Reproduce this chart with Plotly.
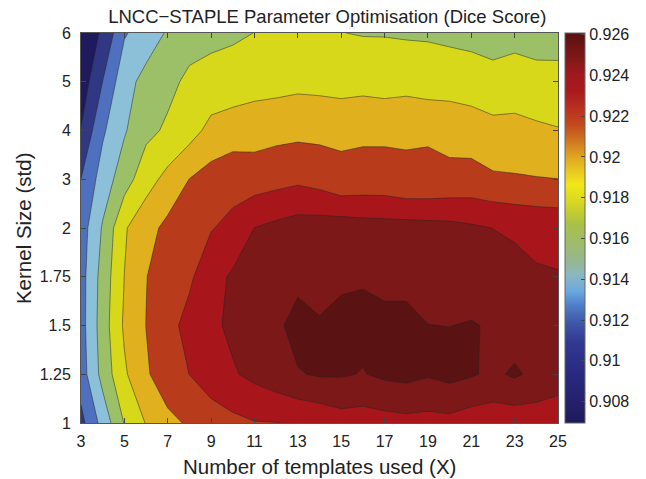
import plotly.graph_objects as go

# ---- data -------------------------------------------------------------
templates = list(range(3, 26))                      # x: number of templates used
kernel_labels = ["1", "1.25", "1.5", "1.75", "2", "3", "4", "5", "6"]  # y categories

dice_k1_00 = [0.9094, 0.9127, 0.9161, 0.9181, 0.9196, 0.9202, 0.9210, 0.9215, 0.9219, 0.92195, 0.9222, 0.9225,
              0.9231, 0.9230, 0.9232, 0.9234, 0.9233, 0.9234, 0.9229, 0.9228, 0.9227, 0.9229, 0.9227]
dice_k1_25 = [0.9110, 0.9147, 0.9177, 0.9198, 0.9209, 0.92202, 0.9230, 0.9238, 0.9245, 0.9252, 0.92587, 0.9262,
              0.9262, 0.9259, 0.9264, 0.9266, 0.9262, 0.9266, 0.9262, 0.9256, 0.9263, 0.9255, 0.9250]
dice_k1_50 = [0.9112, 0.9150, 0.9183, 0.92002, 0.9214, 0.9226, 0.9236, 0.9244, 0.9250, 0.9256, 0.9267, 0.9261,
              0.9265, 0.9266, 0.9263, 0.9264, 0.92602, 0.92598, 0.9261, 0.92585, 0.9250, 0.9254, 0.9252]
dice_k1_75 = [0.9112, 0.9148, 0.91802, 0.91995, 0.9209, 0.9217, 0.9232, 0.9243, 0.9248, 0.9252, 0.9255, 0.9256,
              0.9257, 0.9258, 0.9257, 0.9256, 0.9254, 0.9253, 0.9252, 0.9250, 0.9247, 0.9242, 0.9241]
dice_k2 = [0.9110, 0.9142, 0.9178, 0.9193, 0.9205, 0.9213, 0.9219, 0.9225, 0.92402, 0.9245, 0.9249, 0.9250,
           0.9251, 0.9249, 0.9248, 0.9248, 0.9247, 0.9246, 0.9243, 0.92398, 0.9237, 0.9235, 0.9234]
dice_k3 = [0.91002, 0.9129, 0.9151, 0.9172, 0.9186, 0.92003, 0.9208, 0.9213, 0.9210, 0.9213, 0.9216, 0.9212,
           0.9204, 0.9206, 0.9206, 0.92015, 0.9202, 0.9204, 0.9206, 0.9203, 0.9202, 0.9201, 0.92002]
dice_k4 = [0.9081, 0.9117, 0.9138, 0.9155, 0.9163, 0.9172, 0.9186, 0.9190, 0.9192, 0.9194, 0.9195, 0.9195,
           0.9197, 0.9197, 0.9197, 0.9199, 0.9199, 0.9195, 0.9192, 0.91855, 0.91855, 0.9183, 0.9181]
dice_k5 = [0.9068, 0.91002, 0.9133, 0.9146, 0.9155, 0.9164, 0.9167, 0.9169, 0.9172, 0.9173, 0.9175, 0.9174,
           0.9171, 0.9173, 0.9171, 0.9172, 0.9169, 0.9170, 0.9168, 0.9168, 0.9170, 0.9168, 0.9167]
dice_k6 = [0.9070, 0.9082, 0.9118, 0.9130, 0.9142, 0.9152, 0.9155, 0.9157, 0.91602, 0.9163, 0.9164, 0.9163,
           0.91603, 0.9159, 0.9159, 0.9158, 0.9158, 0.9156, 0.9155, 0.9150, 0.9153, 0.9150, 0.9151]

dice_rows = [dice_k1_00, dice_k1_25, dice_k1_50, dice_k1_75, dice_k2, dice_k3, dice_k4, dice_k5, dice_k6]

x_ticks = [3, 5, 7, 9, 11, 13, 15, 17, 19, 21, 23, 25]
cbar_ticks = [0.908, 0.910, 0.912, 0.914, 0.916, 0.918, 0.920, 0.922, 0.924, 0.926]
cbar_ticktext = ["0.908", "0.91", "0.912", "0.914", "0.916", "0.918", "0.92", "0.922", "0.924", "0.926"]

# ---- styles -----------------------------------------------------------
level_start, level_end, level_step = 0.908, 0.926, 0.002
band_colors = ["#1f1a5e", "#303884", "#4f6fbf", "#8cc0d8", "#9cc068", "#d8d81a",
               "#e0b01e", "#b83c1c", "#a8161c", "#7c1818", "#5a1212"]
contour_scale = [[i / (len(band_colors) - 1), c] for i, c in enumerate(band_colors)]

cb_min, cb_max = 0.90695, 0.92608
cb_stop_values = [0.90695, 0.9077, 0.9093, 0.9109, 0.9119, 0.91275, 0.9134, 0.9142, 0.91505, 0.91667,
                  0.91782, 0.91864, 0.91913, 0.91996, 0.92076, 0.92158, 0.92242, 0.92322, 0.92404,
                  0.92486, 0.92608]
cb_stop_colors = ["#1e1a5a", "#241e68", "#282a80", "#303890", "#4058a8", "#5080c8", "#6aa8e0", "#8ab8c0",
                  "#98b888", "#a8c048", "#d8d820", "#f0e818", "#ecd020", "#e0a820", "#d07820", "#c04a1c",
                  "#b83020", "#a81a1c", "#a01820", "#801818", "#5a1010"]
cb_scale = [[(v - cb_min) / (cb_max - cb_min), c] for v, c in zip(cb_stop_values, cb_stop_colors)]
cb_scale[0][0] = 0.0
cb_scale[-1][0] = 1.0

FONT = "Liberation Sans, Arial, Helvetica, sans-serif"
W, H = 646, 479
L, R, T, B = 81, 71, 33, 56
plot_w = W - L - R

fig = go.Figure()

fig.add_trace(go.Contour(
    x=templates,
    y=list(range(len(kernel_labels))),
    z=dice_rows,
    autocontour=False,
    contours=dict(start=level_start, end=level_end, size=level_step, coloring="fill", showlines=True),
    colorscale=contour_scale,
    showscale=False,
    line=dict(color="rgba(35,35,35,0.85)", width=0.6, smoothing=0),
    hoverinfo="skip",
))

fig.add_trace(go.Scatter(
    x=[None], y=[None], mode="markers", showlegend=False, hoverinfo="skip",
    marker=dict(
        color=[cb_min], colorscale=cb_scale, cmin=cb_min, cmax=cb_max, showscale=True,
        colorbar=dict(
            thickness=20, thicknessmode="pixels", len=1, lenmode="fraction",
            x=(582 - L) / plot_w, xanchor="left", y=0.5, yanchor="middle",
            xpad=0, ypad=0, outlinewidth=1, outlinecolor="#666",
            tickvals=cbar_ticks, ticktext=cbar_ticktext, ticks="inside", ticklen=4,
            tickcolor="#444", tickfont=dict(family=FONT, size=16, color="#222"),
        ),
    ),
))

axis_common = dict(
    showgrid=False, zeroline=False, showline=True, linecolor="#555", linewidth=1,
    mirror="ticks", ticks="inside", ticklen=5, tickcolor="#444",
    tickfont=dict(family=FONT, size=16, color="#222"),
)

fig.update_layout(
    width=W, height=H, autosize=False,
    margin=dict(l=L, r=R, t=T, b=B),
    paper_bgcolor="white", plot_bgcolor="white",
    font=dict(family=FONT, color="#222"),
    title=dict(text="LNCC\u2212STAPLE Parameter Optimisation (Dice Score)",
               font=dict(family=FONT, size=18.5, color="#222"),
               x=(336 - L) / plot_w, xref="paper", xanchor="center",
               y=1 - 17 / H, yref="container", yanchor="middle"),
    xaxis=dict(range=[3, 25], tickvals=x_ticks, ticklabelstandoff=4, **axis_common),
    yaxis=dict(range=[0, len(kernel_labels) - 1], tickvals=list(range(len(kernel_labels))),
               ticktext=kernel_labels, ticklabelstandoff=6, **axis_common),
    annotations=[
        dict(text="Number of templates used (X)", xref="paper", yref="paper",
             x=(328 - L) / plot_w, y=-(466 - (H - B)) / (H - T - B), xanchor="center", yanchor="middle",
             showarrow=False, font=dict(family=FONT, size=20.5, color="#222")),
        dict(text="Kernel Size (std)", xref="paper", yref="paper", textangle=-90,
             x=(21 - L) / plot_w, y=0.5, xanchor="center", yanchor="middle",
             showarrow=False, font=dict(family=FONT, size=20.5, color="#222")),
    ],
)

fig.write_html("out.html")
